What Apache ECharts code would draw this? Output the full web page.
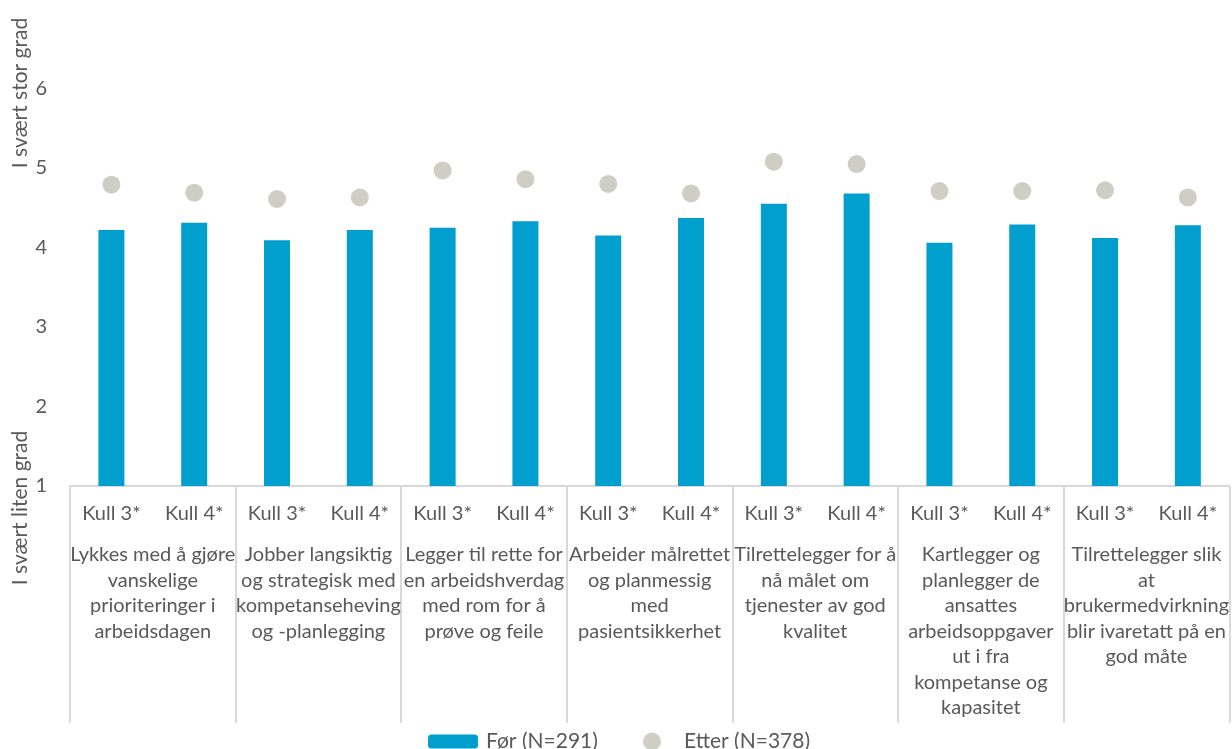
<!DOCTYPE html>
<html>
<head>
<meta charset="utf-8">
<script src="https://cdn.jsdelivr.net/npm/echarts@6/dist/echarts.min.js"></script>
<style>
  html, body { margin: 0; padding: 0; background: #ffffff; }
  #chart { width: 1232px; height: 749px; }
</style>
</head>
<body>
<div id="chart"></div>
<script>
// Sub-categories (cohorts) along the inner axis level
const subCategories = [
  'Kull 3*', 'Kull 4*', 'Kull 3*', 'Kull 4*', 'Kull 3*', 'Kull 4*', 'Kull 3*',
  'Kull 4*', 'Kull 3*', 'Kull 4*', 'Kull 3*', 'Kull 4*', 'Kull 3*', 'Kull 4*'
];

// Statements along the outer axis level
const groupLabels = [
  'Lykkes med å gjøre\nvanskelige\nprioriteringer i\narbeidsdagen',
  'Jobber langsiktig\nog strategisk med\nkompetanseheving\nog -planlegging',
  'Legger til rette for\nen arbeidshverdag\nmed rom for å\nprøve og feile',
  'Arbeider målrettet\nog planmessig\nmed\npasientsikkerhet',
  'Tilrettelegger for å\nnå målet om\ntjenester av god\nkvalitet',
  'Kartlegger og\nplanlegger de\nansattes\narbeidsoppgaver\nut i fra\nkompetanse og\nkapasitet',
  'Tilrettelegger slik\nat\nbrukermedvirkning\nblir ivaretatt på en\ngod måte'
];

const seriesNames = ['Før (N=291)', 'Etter (N=378)'];

// Mean scores on the 1–7 scale
const forValues = [4.22, 4.31, 4.09, 4.22, 4.25, 4.33, 4.15, 4.37, 4.55, 4.68, 4.06, 4.29, 4.12, 4.28];
const etterValues = [4.79, 4.69, 4.61, 4.63, 4.97, 4.86, 4.80, 4.68, 5.08, 5.05, 4.71, 4.71, 4.72, 4.63];

const scaleTop = 'I svært stor grad';
const scaleBottom = 'I svært liten grad';

const FONT = 'Lato';
const TEXT = '#595959';
const LINE = '#D9D9D9';
const BLUE = '#009FCE';
const GREY = '#CFCEC5';

const chart = echarts.init(document.getElementById('chart'));

chart.setOption({
  animation: false,
  backgroundColor: '#ffffff',
  textStyle: { fontFamily: FONT },
  grid: { left: 70, right: 1, top: 9, bottom: 263, containLabel: false },
  legend: [
    {
      left: 428, top: 731, padding: 0,
      itemWidth: 50, itemHeight: 14, itemGap: 0,
      data: [seriesNames[0]],
      textStyle: { fontFamily: FONT, fontSize: 21, color: TEXT, lineHeight: 21, padding: [0, 0, 0, 3] }
    },
    {
      left: 643, top: 731, padding: 0,
      itemWidth: 50, itemHeight: 18, itemGap: 0,
      data: [seriesNames[1]],
      textStyle: { fontFamily: FONT, fontSize: 21, color: TEXT, lineHeight: 21, padding: [0, 0, 0, 2] }
    }
  ],
  xAxis: [
    {
      type: 'category',
      data: subCategories,
      position: 'bottom',
      axisLine: { show: true, lineStyle: { color: LINE, width: 2 } },
      axisTick: { show: false },
      axisLabel: {
        interval: 0, margin: 15, fontFamily: FONT, fontSize: 20,
        color: TEXT, lineHeight: 25
      }
    },
    {
      type: 'category',
      data: groupLabels,
      position: 'bottom',
      boundaryGap: true,
      axisLine: { show: false },
      axisTick: { show: true, interval: 0, length: 237, lineStyle: { color: LINE, width: 2 } },
      axisLabel: {
        interval: 0, margin: 56, fontFamily: FONT, fontSize: 20,
        color: TEXT, lineHeight: 25.5, align: 'center'
      }
    }
  ],
  yAxis: {
    type: 'value',
    min: 1, max: 7, interval: 1,
    axisLine: { show: false },
    axisTick: { show: false },
    splitLine: { show: false },
    axisLabel: {
      margin: 23, fontFamily: FONT, fontSize: 20, color: TEXT,
      formatter: v => (v >= 7 ? '' : String(v))
    }
  },
  graphic: [
    {
      type: 'text', x: 20, y: 93, rotation: Math.PI / 2,
      style: { text: scaleTop, fill: TEXT, font: '21px ' + FONT, align: 'center', verticalAlign: 'middle' }
    },
    {
      type: 'text', x: 20, y: 508, rotation: Math.PI / 2,
      style: { text: scaleBottom, fill: TEXT, font: '21px ' + FONT, align: 'center', verticalAlign: 'middle' }
    }
  ],
  series: [
    {
      name: seriesNames[0],
      type: 'bar',
      xAxisIndex: 0,
      data: forValues,
      barWidth: 26,
      itemStyle: { color: BLUE },
      z: 2
    },
    {
      name: seriesNames[1],
      type: 'scatter',
      xAxisIndex: 0,
      data: etterValues,
      symbol: 'circle',
      symbolSize: 18,
      itemStyle: { color: GREY, opacity: 1 },
      z: 3
    }
  ]
});
</script>
</body>
</html>
